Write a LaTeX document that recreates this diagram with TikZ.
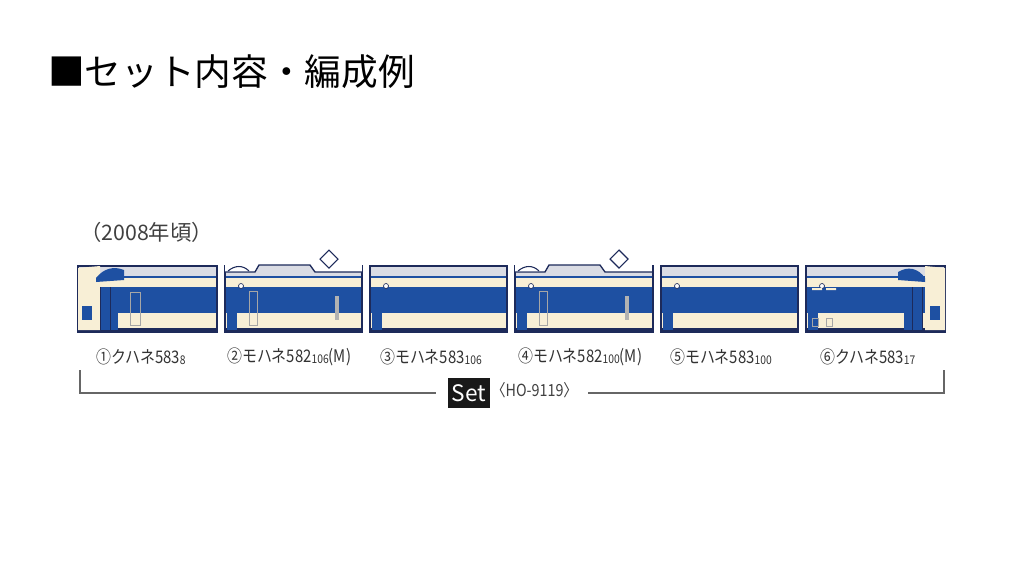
\documentclass[tikz,border=0pt]{standalone}
\usepackage{fontspec}
\setmainfont{Noto Sans CJK JP}
\begin{document}
\begin{tikzpicture}[x=0.75pt,y=-0.75pt,
  lbl/.style={anchor=west,inner sep=0pt,font=\fontsize{13}{13}\selectfont,text=black!80}]
\definecolor{tblue}{HTML}{1E50A2}
\definecolor{cream}{HTML}{F8EFD6}
\definecolor{roof}{HTML}{DADCE4}
\definecolor{navy}{HTML}{1D2A5A}
\newcommand\carsub[1]{\raisebox{-1pt}{\fontsize{9}{9}\selectfont #1}}
\newcommand\narrow[1]{\scalebox{0.86}[1]{#1}}
\useasboundingbox (0,0) rectangle (1024,576);
\fill[white] (0,0) rectangle (1024,576);
\node[anchor=west,inner sep=0pt,font=\fontsize{27.5}{27.5}\selectfont] (title) at (48,72) {■セット内容・編成例};
\node[anchor=west,inner sep=0pt,font=\fontsize{16}{16}\selectfont,text=black!75] (year) at (80,232) {（2008年頃）};
\newcommand\mycar[2]{%
  \fill[roof] (#1,266) rectangle (#2,278);
  \draw[gray,line width=2.2pt,dash pattern=on 3pt off 2pt] (#1+8,266) -- (#2-4,266);
  \fill[cream] (#1,278) rectangle (#2,330);
  \fill[tblue] (#1,287) rectangle (#2,313);
  \draw[tblue,line width=0.8pt] (#1,277) -- (#2,277);
  \fill[navy] (#1,328) rectangle (#2,332);
  \fill[tblue] (#1+2,287) rectangle (#1+12,330);
  \draw[navy,line width=1.2pt] (#1,266) rectangle (#2,332);
  \fill[white,draw=navy,line width=0.5pt] (#1+16,286) circle (2.5);
}
\foreach \a/\b in {78/217,225/362,370/507,515/653,661/798,806/945}{\mycar{\a}{\b}}
\foreach \a in {225,515}{
  \fill[white] (\a,262) rectangle (\a+137,272);
  \draw[navy,line width=1pt,fill=roof] (\a,272) -- (\a+30,272) -- (\a+34,265) -- (\a+85,265) -- (\a+90,272) -- (\a+137,272);
  \draw[navy,line width=0.8pt,fill=white] (\a+104,250) -- (\a+113,259) -- (\a+104,268) -- (\a+95,259) -- cycle;
  \draw[navy,line width=0.8pt,fill=white] (\a+3,271) .. controls (\a+10,265) and (\a+18,265) .. (\a+24,271);
  \draw[gray!70] (\a+24,291) rectangle (\a+32,325);
  \fill[gray!60] (\a+110,296) rectangle (\a+114,320);
}
\fill[cream] (78,268) -- (100,266) -- (100,330) -- (78,330) -- cycle;
\fill[tblue] (96,278) .. controls (104,268) and (114,266) .. (124,270) -- (124,280) -- (96,282) -- cycle;
\fill[tblue] (82,306) rectangle (92,320);
\fill[tblue] (100,287) rectangle (118,330);
\draw[navy] (100,287) -- (100,330) (110,287) -- (110,330);
\draw[gray!70] (130,292) rectangle (140,325);
\fill[cream] (945,268) -- (925,266) -- (925,330) -- (945,330) -- cycle;
\fill[tblue] (925,278) .. controls (918,268) and (908,266) .. (898,272) -- (898,280) -- (925,282) -- cycle;
\fill[tblue] (930,306) rectangle (940,320);
\fill[tblue] (904,287) rectangle (922,330);
\draw[navy] (912,287) -- (912,330) (922,287) -- (922,330);
\fill[cream] (812,288) rectangle (822,290) (826,288) rectangle (836,290);
\draw[gray!70] (812,318) rectangle (818,326) (826,318) rectangle (832,326);
\node[lbl] (l1) at (96,357) {\narrow{①クハネ583\carsub{8}}};
\node[lbl] (l2) at (227,357) {\narrow{②モハネ582\carsub{106}(M)}};
\node[lbl] (l3) at (380,357) {\narrow{③モハネ583\carsub{106}}};
\node[lbl] (l4) at (518,357) {\narrow{④モハネ582\carsub{100}(M)}};
\node[lbl] (l5) at (670,357) {\narrow{⑤モハネ583\carsub{100}}};
\node[lbl] (l6) at (820,357) {\narrow{⑥クハネ583\carsub{17}}};
\node[fill=black!90,text=white,minimum width=31pt,minimum height=22pt,inner sep=0pt,font=\fontsize{17}{17}\selectfont] (set) at (469,393) {Set};
\node[anchor=west,inner sep=0pt,font=\fontsize{12.5}{12.5}\selectfont,text=black!75] (code) at (491,390) {\narrow{〈HO-9119〉}};
\coordinate (bl) at (80,370); \coordinate (br) at (944,370);
\draw[black!60,line width=1pt] (bl) |- (436,393);
\draw[black!60,line width=1pt] (br) |- (588,393);
\end{tikzpicture}
\end{document}
